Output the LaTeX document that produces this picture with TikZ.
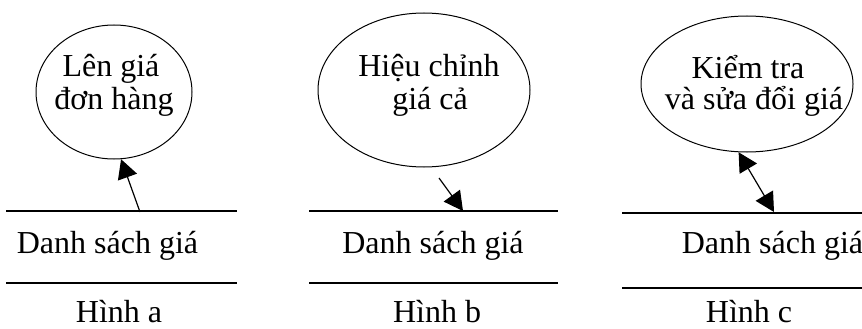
\documentclass[tikz,border=0pt]{standalone}
\usepackage{fontspec}
\setmainfont{Liberation Serif}
\usetikzlibrary{shapes.geometric,arrows.meta}
\begin{document}
\begin{tikzpicture}[x=1pt,y=-1pt,
  bub/.style={draw,ellipse,line width=1pt,inner sep=0pt},
  txt/.style={anchor=base,inner sep=0pt,font=\fontsize{32}{33}\selectfont},
  storeline/.style={line width=1.3pt},
  flow/.style={line width=1.2pt,-{Triangle[length=19pt,width=20pt]}},
  bflow/.style={line width=1.2pt,{Triangle[length=19pt,width=20pt]}-{Triangle[length=19pt,width=20pt]}}]
\useasboundingbox (0,0) rectangle (862,329);
% panel a
\node[bub,minimum width=156pt,minimum height=134pt] (ea) at (114,92) {};
\node[txt] (ea1) at (111,77) {Lên giá};
\node[txt] (ea2) at (114,110) {đơn hàng};
\coordinate (sa1) at (6,211); \coordinate (sa2) at (237,211);
\coordinate (sa3) at (6,283); \coordinate (sa4) at (237,283);
\draw[storeline] (sa1) -- (sa2);
\draw[storeline] (sa3) -- (sa4);
\node[txt] (sat) at (107.5,253) {Danh sách giá};
\node[txt] (capa) at (119,322) {Hình a};
\coordinate (fa) at (140,212);
\draw[flow] (fa) -- (ea.-84);
% panel b
\node[bub,minimum width=212pt,minimum height=154pt] (eb) at (424,90) {};
\node[txt] (eb1) at (429,77) {Hiệu chỉnh};
\node[txt] (eb2) at (430,110) {giá cả};
\coordinate (sb1) at (309,211); \coordinate (sb2) at (558,211);
\coordinate (sb3) at (309,283); \coordinate (sb4) at (558,283);
\draw[storeline] (sb1) -- (sb2);
\draw[storeline] (sb3) -- (sb4);
\node[txt] (sbt) at (433,253) {Danh sách giá};
\node[txt] (capb) at (437,322) {Hình b};
\coordinate (fb1) at (439,178);
\coordinate (fb2) at (463,211);
\draw[flow] (fb1) -- (fb2);
% panel c
\node[bub,minimum width=212pt,minimum height=136pt] (ec) at (747,84) {};
\node[txt] (ec1) at (748,78) {Kiểm tra};
\node[txt] (ec2) at (754,110) {và sửa đổi giá};
\coordinate (sc1) at (622,213); \coordinate (sc2) at (862,213);
\coordinate (sc3) at (622,288); \coordinate (sc4) at (862,288);
\draw[storeline] (sc1) -- (sc2);
\draw[storeline] (sc3) -- (sc4);
\node[txt] (sct) at (772.5,253) {Danh sách giá};
\node[txt] (capc) at (749,322) {Hình c};
\coordinate (fc) at (774,212);
\draw[bflow] (ec.-97) -- (fc);
\end{tikzpicture}
\end{document}
